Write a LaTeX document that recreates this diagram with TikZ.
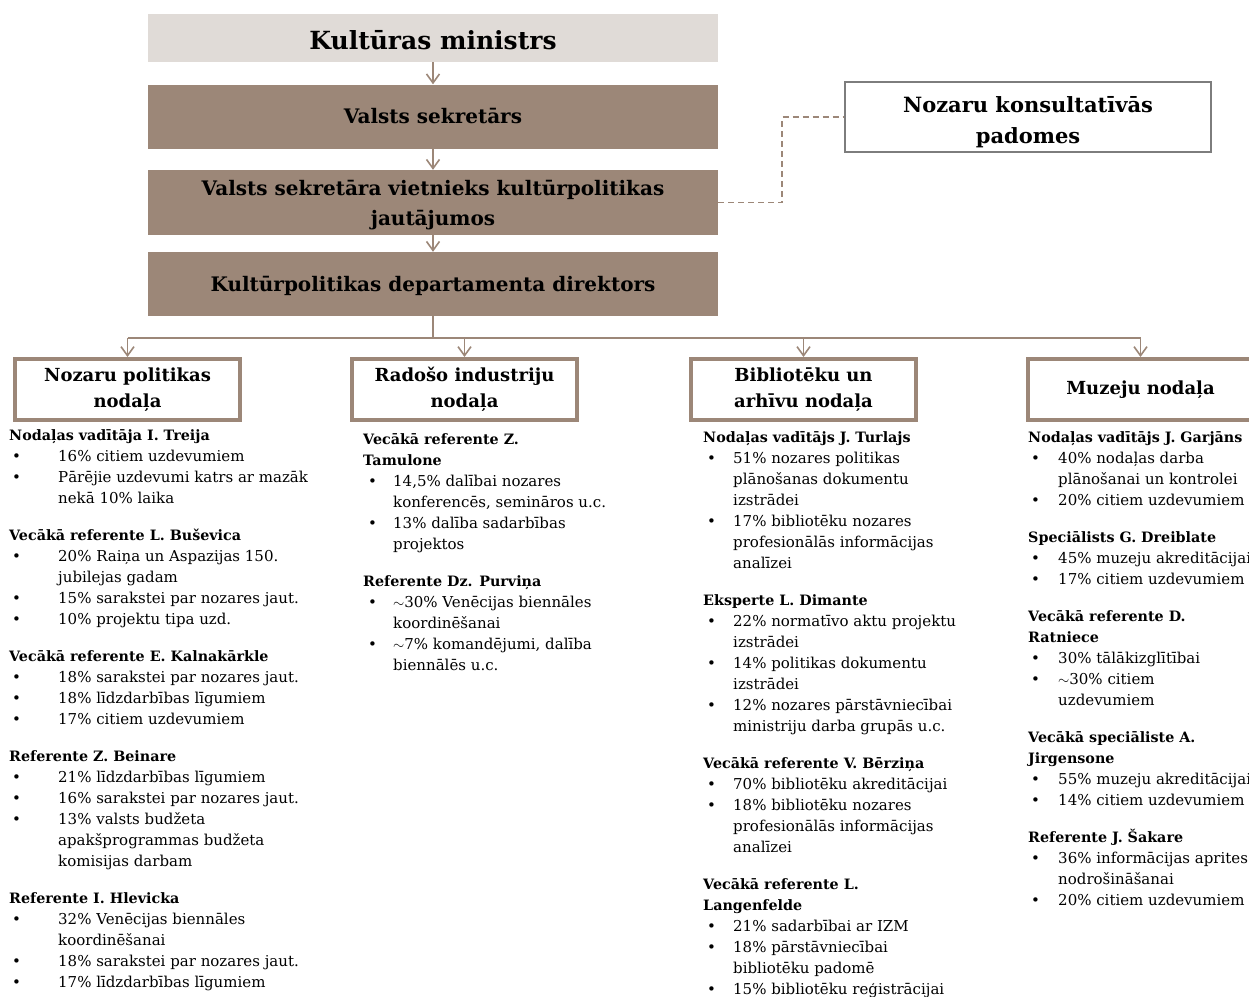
\documentclass[tikz,border=0pt]{standalone}
\usepackage{fontspec}
\setmainfont{DejaVu Serif}
\usepackage{array}
\usetikzlibrary{arrows.meta}
\definecolor{mocha}{RGB}{156,135,120}
\definecolor{pale}{RGB}{224,219,215}
\definecolor{edgegray}{RGB}{125,125,125}

% list helpers for the staff columns
\newcommand{\hd}[1]{\multicolumn{2}{@{}l@{}}{\fontsize{14.3}{21}\selectfont\bfseries #1}\\}
\newcommand{\bl}[1]{\textbullet & #1\\}
\newcommand{\cn}[1]{& #1\\}
\newcommand{\gap}{\noalign{\vskip16pt}}

\begin{document}
\begin{tikzpicture}[x=1pt,y=-1pt,
  chainbox/.style={rectangle, fill=mocha, minimum width=570, minimum height=64,
    inner sep=0pt},
  chaintext/.style={align=center, inner sep=0pt,
    font=\fontsize{20}{30}\selectfont\bfseries},
  deptbox/.style={rectangle, draw=mocha, line width=4pt, fill=white,
    minimum width=225, minimum height=61, inner sep=0pt, align=center,
    font=\fontsize{18}{26}\selectfont\bfseries},
  conn/.style={draw=mocha, line width=1.8pt},
  arr/.style={conn, -{Straight Barb[length=9pt,width=13pt,line width=1.6pt]}},
  staff/.style={anchor=north west, inner sep=0pt,
    font=\fontsize{15}{21}\selectfont}
]
\useasboundingbox (0,0) rectangle (1249,996);

% leadership chain
\node[chainbox, fill=pale, minimum height=48] (min) at (433,38) {};
\node[chaintext, font=\fontsize{25}{28}\selectfont\bfseries]
  at ([yshift=-2pt]min.center) {Kultūras ministrs};
\node[chainbox] (sek) at (433,116.5) {};
\node[chaintext] at (sek.center) {Valsts sekretārs};
\node[chainbox, minimum height=65] (viet) at (433,202.5) {};
\node[chaintext] at ([yshift=-3pt]viet.center)
  {Valsts sekretāra vietnieks kultūrpolitikas\\jautājumos};
\node[chainbox] (dir) at (433,284) {};
\node[chaintext] at ([yshift=-2pt]dir.center)
  {Kultūrpolitikas departamenta direktors};

\node[rectangle, draw=edgegray, line width=1.2pt, fill=white,
  minimum width=366, minimum height=70, inner sep=0pt] (kons) at (1028,117) {};
\node[chaintext, font=\fontsize{21}{31}\selectfont\bfseries]
  at ([yshift=-5pt]kons.center) {Nozaru konsultatīvās\\padomes};

\draw[arr] (min) -- (sek);
\draw[arr] (sek) -- (viet);
\draw[arr] (viet) -- (dir);
\draw[mocha, line width=1.6pt, dash pattern=on 6pt off 4pt]
  (viet.east) -- ++(64,0) |- (kons.west);

% departments
\node[deptbox] (d1) at (127.5,389.5) {Nozaru politikas\\nodaļa};
\node[deptbox] (d2) at (464.5,389.5) {Radošo industriju\\nodaļa};
\node[deptbox] (d3) at (803.5,389.5) {Bibliotēku un\\arhīvu nodaļa};
\node[deptbox] (d4) at (1140.5,389.5) {Muzeju nodaļa};

\draw[conn] (dir.south) -- ++(0,22) coordinate (bus);
\draw[conn] (bus -| d1.north) -- (bus -| d4.north);
\foreach \d in {d1,d2,d3,d4}
  \draw[arr] (bus -| \d.north) -- (\d.north);

% staff of each department
\node[staff] (s1) at (9,425.5) {%
\begin{tabular}{@{\hspace{3pt}}p{46pt}@{}l@{}}
\hd{Nodaļas vadītāja I. Treija}
\bl{16\% citiem uzdevumiem}
\bl{Pārējie uzdevumi katrs ar mazāk}
\cn{nekā 10\% laika}
\gap
\hd{Vecākā referente L. Buševica}
\bl{20\% Raiņa un Aspazijas 150.}
\cn{jubilejas gadam}
\bl{15\% sarakstei par nozares jaut.}
\bl{10\% projektu tipa uzd.}
\gap
\hd{Vecākā referente E. Kalnakārkle}
\bl{18\% sarakstei par nozares jaut.}
\bl{18\% līdzdarbības līgumiem}
\bl{17\% citiem uzdevumiem}
\gap
\hd{Referente Z. Beinare}
\bl{21\% līdzdarbības līgumiem}
\bl{16\% sarakstei par nozares jaut.}
\bl{13\% valsts budžeta}
\cn{apakšprogrammas budžeta}
\cn{komisijas darbam}
\gap
\hd{Referente I. Hlevicka}
\bl{32\% Venēcijas biennāles}
\cn{koordinēšanai}
\bl{18\% sarakstei par nozares jaut.}
\bl{17\% līdzdarbības līgumiem}
\end{tabular}};

\node[staff] (s2) at (363,429.5) {%
\begin{tabular}{@{\hspace{5pt}}p{25pt}@{}l@{}}
\hd{Vecākā referente Z.}
\hd{Tamulone}
\bl{14,5\% dalībai nozares}
\cn{konferencēs, semināros u.c.}
\bl{13\% dalība sadarbības}
\cn{projektos}
\gap
\hd{Referente Dz. Purviņa}
\bl{$\sim$30\% Venēcijas biennāles}
\cn{koordinēšanai}
\bl{$\sim$7\% komandējumi, dalība}
\cn{biennālēs u.c.}
\end{tabular}};

\node[staff] (s3) at (703,427.5) {%
\begin{tabular}{@{\hspace{4pt}}p{26pt}@{}l@{}}
\hd{Nodaļas vadītājs J. Turlajs}
\bl{51\% nozares politikas}
\cn{plānošanas dokumentu}
\cn{izstrādei}
\bl{17\% bibliotēku nozares}
\cn{profesionālās informācijas}
\cn{analīzei}
\gap
\hd{Eksperte L. Dimante}
\bl{22\% normatīvo aktu projektu}
\cn{izstrādei}
\bl{14\% politikas dokumentu}
\cn{izstrādei}
\bl{12\% nozares pārstāvniecībai}
\cn{ministriju darba grupās u.c.}
\gap
\hd{Vecākā referente V. Bērziņa}
\bl{70\% bibliotēku akreditācijai}
\bl{18\% bibliotēku nozares}
\cn{profesionālās informācijas}
\cn{analīzei}
\gap
\hd{Vecākā referente L.}
\hd{Langenfelde}
\bl{21\% sadarbībai ar IZM}
\bl{18\% pārstāvniecībai}
\cn{bibliotēku padomē}
\bl{15\% bibliotēku reģistrācijai}
\end{tabular}};

\node[staff] (s4) at (1028,427.5) {%
\begin{tabular}{@{\hspace{3pt}}p{27pt}@{}l@{}}
\hd{Nodaļas vadītājs J. Garjāns}
\bl{40\% nodaļas darba}
\cn{plānošanai un kontrolei}
\bl{20\% citiem uzdevumiem}
\gap
\hd{Speciālists G. Dreiblate}
\bl{45\% muzeju akreditācijai}
\bl{17\% citiem uzdevumiem}
\gap
\hd{Vecākā referente D.}
\hd{Ratniece}
\bl{30\% tālākizglītībai}
\bl{$\sim$30\% citiem}
\cn{uzdevumiem}
\gap
\hd{Vecākā speciāliste A.}
\hd{Jirgensone}
\bl{55\% muzeju akreditācijai}
\bl{14\% citiem uzdevumiem}
\gap
\hd{Referente J. Šakare}
\bl{36\% informācijas aprites}
\cn{nodrošināšanai}
\bl{20\% citiem uzdevumiem}
\end{tabular}};
\end{tikzpicture}
\end{document}
